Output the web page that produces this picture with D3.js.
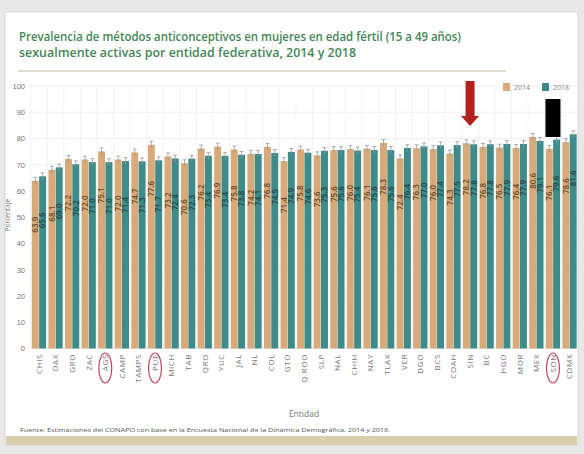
<!DOCTYPE html>
<html><head><meta charset="utf-8">
<script src="https://cdn.jsdelivr.net/npm/d3@7"></script>
<style>body{margin:0;background:#e8e8e8;}svg{display:block;font-family:"Open Sans",sans-serif;}</style>
</head><body><svg id="c" width="584" height="454"></svg>
<script>
const categories = ["CHIS","OAX","GRO","ZAC","AGS","CAMP","TAMPS","PUE","MICH","TAB","QRO","YUC","JAL","NL","COL","GTO","Q.ROO","SLP","NAL","CHIH","NAY","TLAX","VER","DGO","BCS","COAH","SIN","BC","HGO","MOR","MEX","SON","CDMX"];
const values2014 = [63.9,68.1,72.2,72.0,75.1,72.0,74.7,77.6,73.2,70.6,76.2,76.9,75.8,74.2,76.8,71.4,75.8,73.6,75.6,76.0,76.1,78.3,72.4,76.3,76.0,74.3,78.2,76.8,76.5,76.4,80.6,76.1,78.6];
const values2018 = [65.6,69.0,70.2,71.0,71.0,71.4,71.3,71.7,72.4,72.3,73.4,73.4,73.8,74.1,74.5,74.9,74.6,75.3,75.6,75.4,75.6,75.6,76.4,77.0,77.4,77.5,77.8,77.8,77.9,77.9,79.1,79.6,81.6];
const seriesNames = ["2014","2018"];
const yTicks = [0,10,20,30,40,50,60,70,80,90,100];
const circled = ["AGS","PUE","SON"];
const errHalf = 1.3;
const titleLines = ["Prevalencia de métodos anticonceptivos en mujeres en edad fértil (15 a 49 años)","sexualmente activas por entidad federativa, 2014 y 2018"];
const sourceText = "Fuente: Estimaciones del CONAPO con base en la Encuesta Nacional de la Dinámica Demográfica, 2014 y 2018.";

const colors = {"2014":"#d8aa7a","2018":"#3f8b89"};
const labelColors = {"2014":"#6a4a2c","2018":"#1e4747"};

const svg = d3.select("#c");
svg.append("rect").attr("width",584).attr("height",454).attr("fill","#e8e8e8");
svg.append("rect").attr("x",5).attr("y",12).attr("width",573).attr("height",433).attr("fill","#fff").attr("stroke","#d6d6d6");
svg.append("rect").attr("x",6).attr("y",436).attr("width",571).attr("height",9).attr("fill","#d9cfac");

// title
svg.selectAll("text.title").data(titleLines).join("text")
  .attr("x",19).attr("y",(d,i)=>41+i*16)
  .attr("fill","#458558").attr("font-size",12.5).attr("font-weight",600)
  .attr("textLength",(d,i)=>i===0?442:337).attr("lengthAdjust","spacingAndGlyphs")
  .text(d=>d);
svg.append("line").attr("x1",18).attr("x2",506).attr("y1",71).attr("y2",71).attr("stroke","#d9d2c2").attr("stroke-width",1.5);

const y = d3.scaleLinear().domain([0,100]).range([348.5,86]);
const x0 = d3.scaleBand().domain(categories).range([31.5,577]).paddingInner(0.14).paddingOuter(0.02);
const x1 = d3.scaleBand().domain(seriesNames).range([0,x0.bandwidth()]).paddingInner(0.05);

// grid
const g = svg.append("g");
g.selectAll("line.h").data(yTicks).join("line")
  .attr("x1",30).attr("x2",578).attr("y1",d=>y(d)).attr("y2",d=>y(d)).attr("stroke","#efefef");
g.selectAll("line.v").data(categories).join("line")
  .attr("x1",d=>x0(d)-x0.step()*x0.paddingInner()/2).attr("x2",d=>x0(d)-x0.step()*x0.paddingInner()/2)
  .attr("y1",y(100)).attr("y2",y(0)).attr("stroke","#f2f2f2");

// y axis
const yAxis = svg.append("g").attr("transform","translate(27,0)")
  .call(d3.axisLeft(y).tickValues(yTicks).tickSize(0).tickPadding(2));
yAxis.select(".domain").remove();
yAxis.selectAll("text").attr("font-size",7.5).attr("fill","#777");
svg.append("text").attr("transform","translate(10,215) rotate(-90)").attr("text-anchor","middle")
  .attr("font-size",6.5).attr("fill","#777").text("Porcentaje");

// bars
const data = categories.map((c,i)=>({cat:c, vals:[{s:"2014",v:values2014[i]},{s:"2018",v:values2018[i]}]}));
const grp = svg.append("g").selectAll("g").data(data).join("g").attr("transform",d=>`translate(${x0(d.cat)},0)`);
grp.selectAll("rect").data(d=>d.vals).join("rect")
  .attr("x",d=>x1(d.s)).attr("width",x1.bandwidth())
  .attr("y",d=>y(d.v)).attr("height",d=>y(0)-y(d.v)).attr("fill",d=>colors[d.s]);
// error bars
const eb = grp.selectAll("g.eb").data(d=>d.vals).join("g").attr("class","eb");
eb.append("line").attr("x1",d=>x1(d.s)+x1.bandwidth()/2).attr("x2",d=>x1(d.s)+x1.bandwidth()/2)
  .attr("y1",d=>y(d.v+errHalf)).attr("y2",d=>y(d.v-errHalf)).attr("stroke","#9a9a9a").attr("stroke-width",0.8);
eb.append("line").attr("x1",d=>x1(d.s)+x1.bandwidth()/2-2).attr("x2",d=>x1(d.s)+x1.bandwidth()/2+2)
  .attr("y1",d=>y(d.v+errHalf)).attr("y2",d=>y(d.v+errHalf)).attr("stroke","#9a9a9a").attr("stroke-width",0.8);
// value labels
grp.selectAll("text.v").data(d=>d.vals).join("text")
  .attr("transform",d=>`translate(${x1(d.s)+x1.bandwidth()/2+2.8},${y(d.v)+36}) rotate(-90)`)
  .attr("text-anchor","end").attr("font-size",8).attr("font-weight",600).attr("fill",d=>labelColors[d.s])
  .text(d=>d.v.toFixed(1));

// x axis labels
svg.append("g").selectAll("text").data(categories).join("text")
  .attr("transform",d=>`translate(${x0(d)+x0.bandwidth()/2+2.8},354) rotate(-90)`)
  .attr("text-anchor","end").attr("font-size",8).attr("letter-spacing",0.6).attr("fill","#777").text(d=>d);
svg.append("g").selectAll("ellipse").data(circled).join("ellipse")
  .attr("cx",d=>x0(d)+x0.bandwidth()/2).attr("cy",368).attr("rx",6.5).attr("ry",15)
  .attr("fill","none").attr("stroke","#c0465e").attr("stroke-width",1.2);
svg.append("text").attr("x",304).attr("y",417).attr("text-anchor","middle").attr("font-size",8.5).attr("fill","#777").text("Entidad");

// source
svg.append("text").attr("x",20).attr("y",432).attr("font-size",5.6).attr("fill","#555")
  .attr("textLength",370).attr("lengthAdjust","spacingAndGlyphs").text(sourceText);

// legend
const leg = svg.append("g").selectAll("g").data(seriesNames).join("g")
  .attr("transform",(d,i)=>`translate(${503+i*39},83)`);
leg.append("rect").attr("width",7).attr("height",8).attr("fill",d=>colors[d]);
leg.append("text").attr("x",11).attr("y",7).attr("font-size",7).attr("fill","#888").text(d=>d);

// annotations: red arrow at SIN, black box at SON
const ax = x0("SIN")+x0.bandwidth()/2;
svg.append("rect").attr("x",ax-4.5).attr("y",81).attr("width",9).attr("height",36).attr("fill","#b3211e");
svg.append("path").attr("d",`M${ax-9},116 L${ax+9},116 L${ax},126 Z`).attr("fill","#b3211e");
const bx = x0("SON")+x0.bandwidth()/2;
svg.append("rect").attr("x",bx-7.5).attr("y",99).attr("width",15).attr("height",38).attr("fill","#000");
</script></body></html>
